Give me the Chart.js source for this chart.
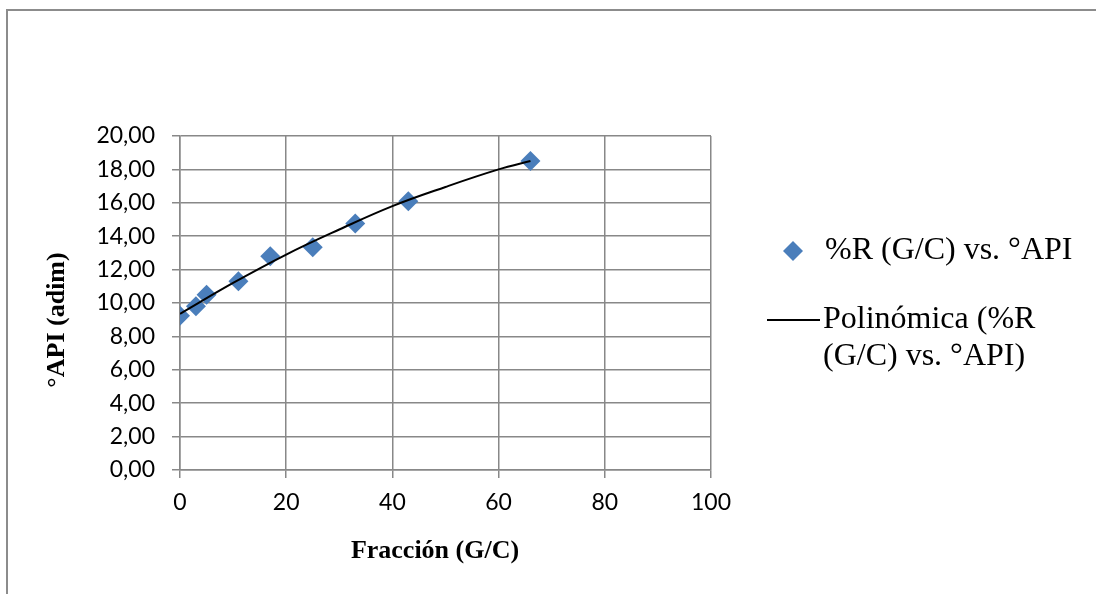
<!DOCTYPE html>
<html>
<head>
<meta charset="utf-8">
<script src="https://cdn.jsdelivr.net/npm/chart.js@4.4.1/dist/chart.umd.min.js"></script>
<style>
  html, body { margin: 0; padding: 0; background: #fff; overflow: hidden; }
  #wrap { position: relative; width: 1096px; height: 594px; overflow: hidden; }
  #frame { position: absolute; left: 6px; top: 9px; width: 2000px; height: 2000px; border: 2px solid #8c8c8c; }
  canvas { position: absolute; left: 0; top: 0; }
</style>
</head>
<body>
<div id="wrap">
  <div id="frame"></div>
  <canvas id="chart" width="1096" height="594"></canvas>
</div>
<script>
// Measured points: fraction (G/C) vs. °API
const fraccion = [0, 3, 5, 11, 17, 25, 33, 43, 66];
const api = [9.24, 9.80, 10.50, 11.30, 12.80, 13.34, 14.76, 16.10, 18.50];

// Polynomial trendline
const trendX = [0, 10, 20, 30, 40, 50, 60, 66];
const trendY = [9.35, 11.2, 12.9, 14.4, 15.8, 16.95, 18.0, 18.5];

const xTicks = [0, 20, 40, 60, 80, 100];
const yTicks = ['0,00', '2,00', '4,00', '6,00', '8,00', '10,00', '12,00', '14,00', '16,00', '18,00', '20,00'];

const seriesLabel = '%R (G/C) vs. °API';
const trendLabel = 'Polinómica (%R (G/C) vs. °API)';
const xTitle = 'Fracción (G/C)';
const yTitle = '°API (adim)';

const gridColor = '#888888';
const markerColor = '#4a7ebb';
const tickFont = { family: 'Lato', size: 23 };

// Axis titles, placed a little off the plot centre like the office chart
const axisTitles = {
  id: 'axisTitles',
  afterDraw(chart) {
    const ctx = chart.ctx;
    ctx.save();
    ctx.font = 'bold 26px "Liberation Serif"';
    ctx.fillStyle = '#000';
    ctx.textAlign = 'center';
    ctx.textBaseline = 'middle';
    ctx.fillText(xTitle, 435, 551);
    ctx.translate(57, 320);
    ctx.rotate(-Math.PI / 2);
    ctx.fillText(yTitle, 0, 0);
    ctx.restore();
  }
};

// Draws the legend on the right side, wrapping long labels
const sideLegend = {
  id: 'sideLegend',
  afterDraw(chart) {
    const ctx = chart.ctx;
    const textX = 824;
    const maxW = 1096 - textX - 6;
    ctx.save();
    ctx.font = '32px "Liberation Serif"';
    ctx.fillStyle = '#000';
    ctx.textBaseline = 'middle';
    ctx.textAlign = 'left';

    const wrap = (text) => {
      const words = text.split(' ');
      const lines = [];
      let cur = '';
      words.forEach(w => {
        const test = cur ? cur + ' ' + w : w;
        if (ctx.measureText(test).width > maxW && cur) {
          lines.push(cur);
          cur = w;
        } else {
          cur = test;
        }
      });
      if (cur) lines.push(cur);
      return lines;
    };

    // scatter entry
    let y = 251;
    ctx.fillStyle = markerColor;
    ctx.beginPath();
    ctx.moveTo(793, y - 10);
    ctx.lineTo(803, y);
    ctx.lineTo(793, y + 10);
    ctx.lineTo(783, y);
    ctx.closePath();
    ctx.fill();
    ctx.fillStyle = '#000';
    wrap(seriesLabel).forEach((l, i) => ctx.fillText(l, textX + 1, y + i * 37));

    // trendline entry
    y = 320;
    ctx.strokeStyle = '#000';
    ctx.lineWidth = 2;
    ctx.beginPath();
    ctx.moveTo(767, y);
    ctx.lineTo(820, y);
    ctx.stroke();
    wrap(trendLabel).forEach((l, i) => ctx.fillText(l, textX - 1, y + i * 37));
    ctx.restore();
  }
};

new Chart(document.getElementById('chart').getContext('2d'), {
  type: 'scatter',
  data: {
    datasets: [
      {
        label: trendLabel,
        type: 'line',
        data: trendX.map((x, i) => ({ x: x, y: trendY[i] })),
        borderColor: '#000',
        borderWidth: 2,
        pointRadius: 0,
        tension: 0.4,
        fill: false,
        order: 0,
      },
      {
        label: seriesLabel,
        data: fraccion.map((x, i) => ({ x: x, y: api[i] })),
        pointStyle: 'rectRot',
        pointRadius: 10,
        backgroundColor: markerColor,
        borderColor: markerColor,
        borderWidth: 0,
        order: 1,
      },
    ],
  },
  options: {
    responsive: false,
    animation: false,
    layout: { padding: { left: 0, top: 136, right: 385, bottom: 24 } },
    plugins: {
      legend: { display: false },
      tooltip: { enabled: false },
    },
    scales: {
      x: {
        type: 'linear',
        min: xTicks[0],
        max: xTicks[xTicks.length - 1],
        afterBuildTicks: (scale) => { scale.ticks = xTicks.map(v => ({ value: v })); },
        ticks: { font: tickFont, color: '#000', padding: 11, maxRotation: 0 },
        grid: { color: gridColor, lineWidth: 1.5, tickLength: 8 },
        border: { color: gridColor, width: 1.5 },
        afterFit: (scale) => { scale.height = 100; },
      },
      y: {
        min: 0,
        max: 20,
        afterBuildTicks: (scale) => { scale.ticks = yTicks.map((t, i) => ({ value: i * 2 })); },
        ticks: { font: tickFont, color: '#000', padding: 17, callback: (v, i) => yTicks[i] },
        grid: { color: gridColor, lineWidth: 1.5, tickLength: 8 },
        border: { color: gridColor, width: 1.5 },
        afterFit: (scale) => { scale.width = 180; },
      },
    },
  },
  plugins: [sideLegend, axisTitles],
});
</script>
</body>
</html>
